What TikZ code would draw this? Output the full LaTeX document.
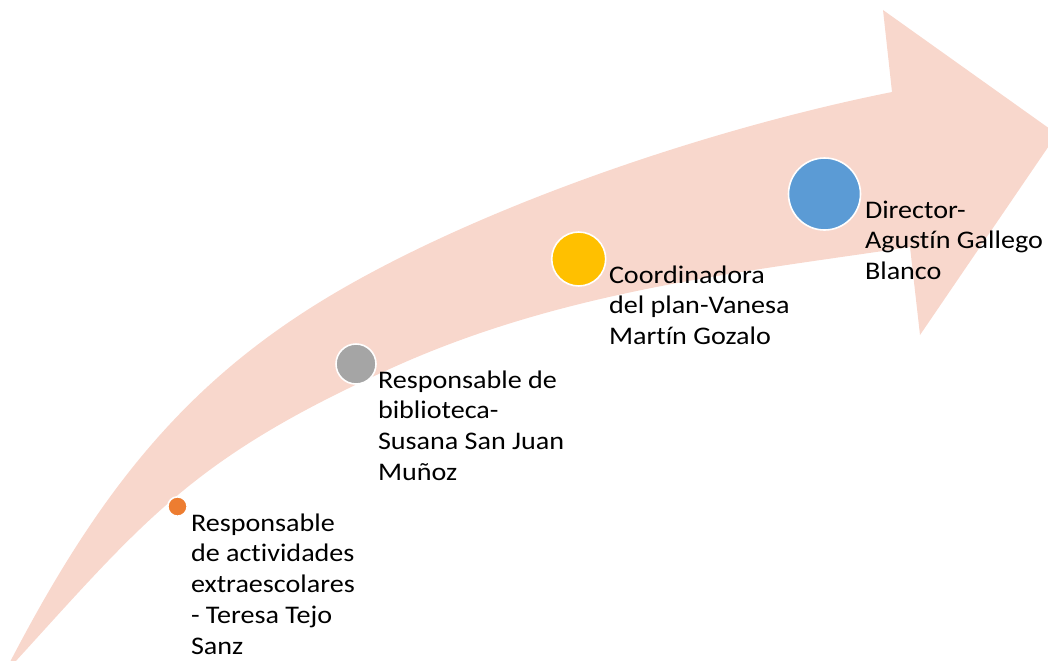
\documentclass[tikz,border=0pt]{standalone}
\usepackage{fontspec}
\setmainfont[FakeStretch=1.11,Ligatures=NoCommon]{Carlito}
\definecolor{arrowpink}{HTML}{F8D7CC}
\definecolor{dotorange}{HTML}{ED7D31}
\definecolor{dotgray}{HTML}{A5A5A5}
\definecolor{dotyellow}{HTML}{FFC000}
\definecolor{dotblue}{HTML}{5B9BD5}
\begin{document}
\begin{tikzpicture}[x=0.75pt,y=-0.75pt,
  dot/.style={circle,draw=white,line width=1.2pt,inner sep=0pt,outer sep=0pt},
  lbl/.style={anchor=base west,inner sep=0pt,outer sep=0pt,text=black,
    font=\fontsize{19}{23.1}\selectfont}]
\useasboundingbox (0,0) rectangle (1048,660);
\begin{scope}
\clip (0,0) rectangle (1048,660);
\fill[arrowpink]
  (10,662) .. controls (101,487) and (190,377) .. (340,290)
  .. controls (490,203) and (712,128) .. (892,92)
  -- (883,10) -- (1057,134) -- (920,335) -- (910,247)
  .. controls (740,272.5) and (564,290.5) .. (394,367)
  .. controls (194,457) and (146,518.3) .. (15,662)
  -- cycle;
\end{scope}
\node[dot,fill=dotorange,minimum size=14.5pt] (c1) at (177.5,506.5) {};
\node[dot,fill=dotgray,minimum size=30pt] (c2) at (356,364) {};
\node[dot,fill=dotyellow,minimum size=40.5pt] (c3) at (578.7,259) {};
\node[dot,fill=dotblue,minimum size=54pt] (c4) at (824.5,194) {};
\node[lbl] (t1) at (191,531) {\parbox[t]{150pt}{\raggedright Responsable\\de actividades\\extraescolares\\- Teresa Tejo\\Sanz}};
\node[lbl] (t2) at (378,388) {\parbox[t]{150pt}{\raggedright Responsable de\\biblioteca-\\Susana San Juan\\Muñoz}};
\node[lbl] (t3) at (609,283) {\parbox[t]{150pt}{\raggedright Coordinadora\\del plan-Vanesa\\Martín Gozalo}};
\node[lbl] (t4) at (865,218) {\parbox[t]{150pt}{\raggedright Director-\\Agustín Gallego\\Blanco}};
\end{tikzpicture}
\end{document}
